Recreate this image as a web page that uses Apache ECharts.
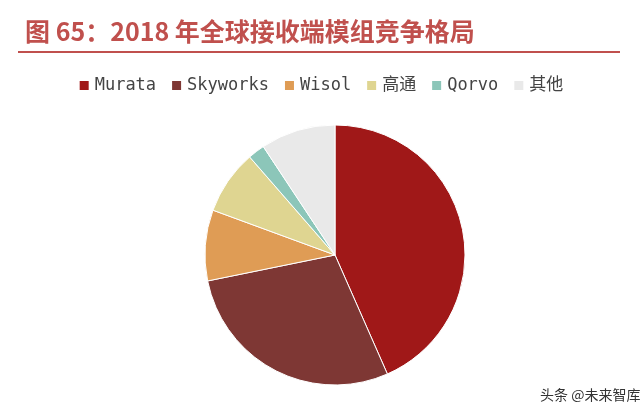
<!DOCTYPE html>
<html><head><meta charset="utf-8">
<script src="https://cdn.jsdelivr.net/npm/echarts@6/dist/echarts.min.js"></script>
<style>html,body{margin:0;padding:0;background:#fff}#c{width:641px;height:418px}</style>
</head><body><div id="c"></div>
<script>
const categories = ['Murata','Skyworks','Wisol','高通','Qorvo','其他'];
const values = [43.4, 28.4, 8.8, 8.0, 2.1, 9.3];
const colors = ['#A01818','#7E3734','#DF9C55','#DFD591','#8CC6B9','#E9E9E9'];
const chart = echarts.init(document.getElementById('c'));
chart.setOption({
  animation:false,
  color: colors,
  title:{text:'图 65：2018 年全球接收端模组竞争格局',left:20,top:14,
    textStyle:{color:'#C0504D',fontSize:25,fontWeight:'bold',fontFamily:'Noto Sans CJK SC'}},
  graphic:[
    {type:'rect',shape:{x:18,y:51,width:602,height:2},style:{fill:'#C0504D'}},
    {type:'text',left:540,top:388,style:{text:'头条 @未来智库',fill:'#333',font:'14px "Noto Sans CJK SC"'}}
  ],
  legend:{top:72,left:'center',itemWidth:11,itemHeight:11,itemGap:14,icon:'rect',
    textStyle:{fontSize:17,color:'#444',fontFamily:'"DejaVu Sans Mono","Noto Sans CJK SC"'},
    data:categories},
  series:[{type:'pie',center:[335,255],radius:130,startAngle:90,clockwise:true,
    label:{show:false},labelLine:{show:false},
    itemStyle:{borderColor:'#fff',borderWidth:1},
    data:categories.map((n,i)=>({name:n,value:values[i]}))}]
});
</script></body></html>
